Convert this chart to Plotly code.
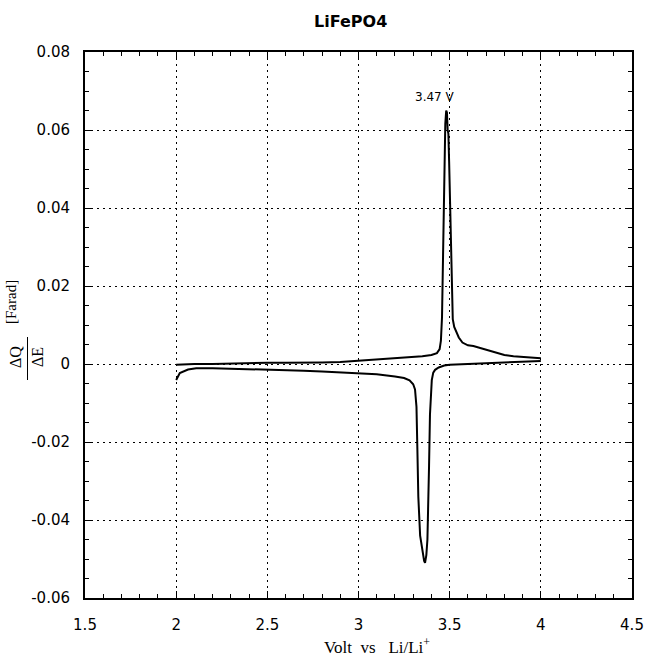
import plotly.graph_objects as go

# ---- data ----
charge_v = [2.0, 2.1, 2.2, 2.3, 2.4, 2.5, 2.6, 2.7, 2.8, 2.9, 3.0, 3.1, 3.2, 3.3, 3.35,
            3.4, 3.43, 3.445, 3.452, 3.458, 3.462, 3.466, 3.471, 3.476, 3.481, 3.485,
            3.489, 3.493, 3.497, 3.502, 3.507, 3.512, 3.517, 3.525, 3.535, 3.55, 3.57,
            3.6, 3.63, 3.66, 3.7, 3.75, 3.8, 3.85, 3.9, 3.95, 4.0]
charge_dq = [-0.0002, 0.0, 0.0, 0.0001, 0.0003, 0.0003, 0.0003, 0.0003, 0.0004, 0.0005,
             0.0008, 0.0011, 0.0014, 0.0018, 0.0020, 0.0023, 0.0028, 0.0038, 0.0060,
             0.012, 0.025, 0.040, 0.052, 0.0615, 0.0650, 0.0645, 0.0600, 0.0590, 0.052,
             0.040, 0.028, 0.016, 0.0115, 0.0095, 0.0085, 0.0068, 0.0055, 0.0048,
             0.0046, 0.0042, 0.0036, 0.0029, 0.0023, 0.0020, 0.0018, 0.0016, 0.0015]

discharge_v = [2.0, 2.02, 2.065, 2.11, 2.2, 2.3, 2.4, 2.5, 2.6, 2.7, 2.8, 2.9, 3.0, 3.1,
               3.2, 3.25, 3.28, 3.3, 3.31, 3.318, 3.323, 3.328, 3.338, 3.35, 3.36, 3.365,
               3.372, 3.378, 3.382, 3.387, 3.392, 3.397, 3.402, 3.41, 3.42, 3.44, 3.47,
               3.5, 3.6, 3.7, 3.8, 3.9, 4.0]
discharge_dq = [-0.0041, -0.0023, -0.0014, -0.0011, -0.0011, -0.0012, -0.0013, -0.0015,
                -0.0016, -0.0017, -0.0019, -0.0021, -0.0023, -0.0026, -0.0032, -0.0036,
                -0.0042, -0.0052, -0.0065, -0.011, -0.022, -0.034, -0.044, -0.048,
                -0.0505, -0.051, -0.049, -0.045, -0.038, -0.026, -0.013, -0.007, -0.0041,
                -0.0022, -0.0015, -0.0009, -0.0004, -0.0002, 0.0, 0.0002, 0.0004, 0.0006,
                0.0008]

x_tick_vals = [1.5, 2, 2.5, 3, 3.5, 4, 4.5]
x_tick_text = ["1.5", "2", "2.5", "3", "3.5", "4", "4.5"]
y_tick_vals = [-0.06, -0.04, -0.02, 0, 0.02, 0.04, 0.06, 0.08]
y_tick_text = ["-0.06", "-0.04", "-0.02", "0", "0.02", "0.04", "0.06", "0.08"]

peak_label = "3.47 V"
title_text = "LiFePO4"

# ---- layout geometry ----
W, H = 646, 661
L, R, T, B = 85, 14, 52, 63
PW, PH = W - L - R, H - T - B


def px(x):
    return (x - L) / PW


def py(y):
    return (H - B - y) / PH


fig = go.Figure()
fig.add_trace(go.Scatter(x=charge_v, y=charge_dq, mode="lines",
                         line=dict(color="black", width=2), showlegend=False))
fig.add_trace(go.Scatter(x=discharge_v, y=discharge_dq, mode="lines",
                         line=dict(color="black", width=2), showlegend=False))

axis_common = dict(
    showline=True, linecolor="black", linewidth=2, mirror="allticks",
    ticks="inside", ticklen=7, tickcolor="black", tickwidth=1,
    showgrid=True, gridcolor="black", gridwidth=1, griddash="2px,4px",
    zeroline=False, automargin=False,
    tickfont=dict(family="DejaVu Sans", size=15, color="black"),
)

fig.update_xaxes(range=[1.5, 4.5], tickmode="array", tickvals=x_tick_vals,
                 ticktext=x_tick_text, ticklabelstandoff=12,
                 minor=dict(dtick=0.1, ticks="inside", ticklen=4, tickcolor="black",
                            showgrid=False),
                 **axis_common)
fig.update_yaxes(range=[-0.06, 0.08], tickmode="array", tickvals=y_tick_vals,
                 ticktext=y_tick_text, ticklabelstandoff=10,
                 minor=dict(dtick=0.005, ticks="inside", ticklen=4, tickcolor="black",
                            showgrid=False),
                 **axis_common)

serif = dict(family="Liberation Serif", size=16, color="black")


def ann(text, x, y, font, **kw):
    d = dict(text=text, xref="paper", yref="paper", x=px(x), y=py(y),
             xanchor="center", yanchor="middle", showarrow=False, font=font)
    d.update(kw)
    return d


annotations = [
    ann("<b>%s</b>" % title_text, 350, 22,
        dict(family="DejaVu Sans", size=16, color="black")),
    dict(text=peak_label, xref="x", yref="y", x=3.42, y=0.0685, showarrow=False,
         xanchor="center", yanchor="middle",
         font=dict(family="DejaVu Sans", size=12, color="black")),
    ann("Volt  vs   Li/Li<sup>+</sup>", 377, 646,
        dict(family="Liberation Serif", size=17, color="black")),
    ann("ΔQ", 15, 357, serif, textangle=-90),
    ann("ΔE", 37, 357, serif, textangle=-90),
    ann("[Farad]", 11, 302, dict(family="Liberation Serif", size=15, color="black"),
        textangle=-90),
]

fig.add_shape(type="line", xref="paper", yref="paper", x0=px(27.5), x1=px(27.5),
              y0=py(337), y1=py(380), line=dict(color="black", width=1))

fig.update_layout(
    template="none",
    width=W, height=H, margin=dict(l=L, r=R, t=T, b=B, autoexpand=False),
    paper_bgcolor="white", plot_bgcolor="white",
    annotations=annotations, showlegend=False,
)

fig.write_html("out.html")
